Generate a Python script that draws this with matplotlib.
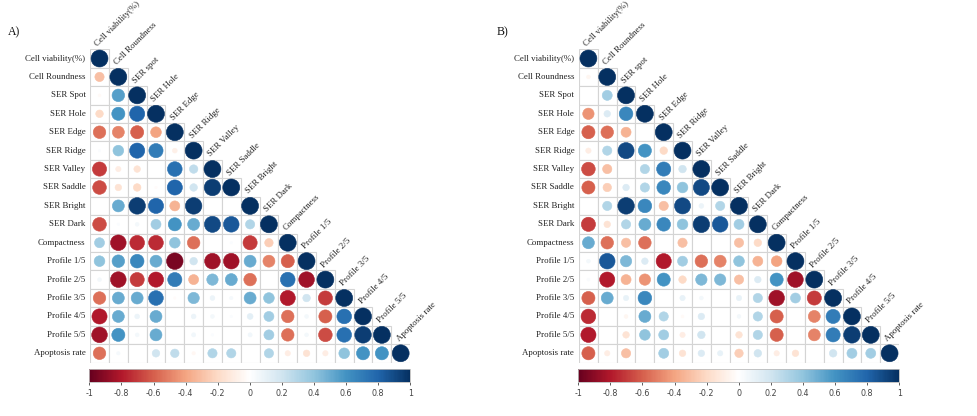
import numpy as np
import matplotlib
matplotlib.use("Agg")
import matplotlib.pyplot as plt
from matplotlib.colors import LinearSegmentedColormap, Normalize
from matplotlib.cm import ScalarMappable
from matplotlib.patches import Rectangle

row_labels = ["Cell viability(%)", "Cell Roundness", "SER Spot", "SER Hole", "SER Edge",
              "SER Ridge", "SER Valley", "SER Saddle", "SER Bright", "SER Dark",
              "Compactness", "Profile 1/5", "Profile 2/5", "Profile 3/5", "Profile 4/5",
              "Profile 5/5", "Apoptosis rate"]
col_labels = ["Cell viability(%)", "Cell Roundness", "SER spot", "SER Hole", "SER Edge",
              "SER Ridge", "SER Valley", "SER Saddle", "SER Bright", "SER Dark",
              "Compactness", "Profile 1/5", "Profile 2/5", "Profile 3/5", "Profile 4/5",
              "Profile 5/5", "Apoptosis rate"]

# lower triangle, row by row (diagonal = 1 not listed)
corr_a = [
    [],
    [-0.3],
    [-0.03, 0.55],
    [-0.2, 0.6, 0.8],
    [-0.55, -0.5, -0.6, -0.4],
    [0.02, 0.4, 0.8, 0.7, -0.08],
    [-0.7, -0.1, -0.15, 0.0, 0.75, 0.25],
    [-0.65, -0.15, -0.2, -0.02, 0.8, 0.2, 0.95],
    [0.0, 0.5, 0.95, 0.8, -0.35, 0.95, 0.0, 0.0],
    [-0.65, 0.02, 0.05, 0.35, 0.6, 0.5, 0.9, 0.85, 0.3],
    [0.35, -0.85, -0.75, -0.75, 0.4, -0.55, 0.0, 0.02, -0.7, -0.25],
    [0.4, 0.55, 0.65, 0.5, -0.95, 0.2, -0.85, -0.85, 0.5, -0.5, -0.6],
    [0.05, -0.85, -0.7, -0.8, 0.7, -0.35, 0.45, 0.5, -0.55, 0.0, 0.75, -0.85],
    [-0.55, 0.5, 0.5, 0.75, -0.02, 0.45, 0.08, 0.04, 0.5, 0.4, -0.8, 0.2, -0.7],
    [-0.8, 0.5, 0.08, 0.5, 0.0, 0.08, 0.05, 0.02, 0.12, 0.35, -0.55, 0.05, -0.6, 0.75],
    [-0.85, 0.6, 0.05, 0.5, 0.0, 0.06, 0.02, 0.0, 0.06, 0.35, -0.55, 0.05, -0.65, 0.75, 0.95],
    [-0.55, 0.04, 0.0, 0.2, 0.25, -0.04, 0.3, 0.3, 0.0, 0.3, -0.1, -0.15, -0.1, 0.4, 0.6, 0.6],
]

corr_b = [
    [],
    [-0.05],
    [0.0, 0.35],
    [-0.45, 0.15, 0.65],
    [-0.6, -0.55, -0.35, 0.0],
    [-0.1, 0.3, 0.9, 0.6, -0.2],
    [-0.65, -0.3, 0.0, 0.3, 0.7, 0.2],
    [-0.6, -0.25, 0.15, 0.3, 0.65, 0.4, 0.9],
    [0.0, 0.3, 0.95, 0.65, -0.3, 0.9, 0.08, 0.3],
    [-0.7, -0.15, 0.3, 0.5, 0.65, 0.4, 0.95, 0.85, 0.35],
    [0.5, -0.55, -0.3, -0.55, 0.0, -0.3, 0.0, 0.0, -0.3, -0.2],
    [0.05, 0.85, 0.45, 0.15, -0.8, 0.35, -0.55, -0.5, 0.4, -0.35, -0.4],
    [0.03, -0.8, -0.35, -0.45, 0.6, -0.2, 0.45, 0.45, -0.3, 0.15, 0.6, -0.85],
    [-0.6, 0.5, 0.1, 0.65, 0.0, 0.1, 0.05, 0.0, 0.1, 0.3, -0.85, 0.35, -0.7],
    [-0.75, 0.0, -0.05, 0.5, 0.3, -0.03, 0.15, 0.0, 0.05, 0.3, -0.6, 0.0, -0.5, 0.7],
    [-0.8, 0.0, -0.15, 0.4, 0.35, -0.1, 0.2, 0.0, -0.15, 0.3, -0.6, 0.0, -0.5, 0.7, 0.95],
    [-0.6, -0.1, -0.3, 0.0, 0.35, -0.15, 0.15, 0.1, -0.25, 0.2, -0.1, -0.15, 0.0, 0.2, 0.35, 0.35],
]

cbar_ticks = [-1, -0.8, -0.6, -0.4, -0.2, 0, 0.2, 0.4, 0.6, 0.8, 1]
panel_names = ["A)", "B)"]

# corrplot default palette
cmap = LinearSegmentedColormap.from_list("corr", [
    "#67001F", "#B2182B", "#D6604D", "#F4A582", "#FDDBC7", "#FFFFFF",
    "#D1E5F0", "#92C5DE", "#4393C3", "#2166AC", "#053061"])
norm = Normalize(-1, 1)

W, H = 978, 416
fig = plt.figure(figsize=(W / 100, H / 100), dpi=100)
serif = "Liberation Serif"
n = len(row_labels)


def draw_panel(left_px, corr, name):
    top_px, bot_px = 49.3, 362.5
    width_px = 320
    cell_w = width_px / n
    ax = fig.add_axes([left_px / W, 1 - bot_px / H, width_px / W, (bot_px - top_px) / H])
    ax.set_xlim(-0.5, n - 0.5)
    ax.set_ylim(n - 0.5, -0.5)
    ax.axis("off")

    xs, ys, vals = [], [], []
    for i in range(n):
        row = list(corr[i]) + [1.0]
        for j, v in enumerate(row):
            ax.add_patch(Rectangle((j - 0.5, i - 0.5), 1, 1, facecolor="white",
                                   edgecolor="#d4d4d4", lw=0.8, zorder=1))
            xs.append(j)
            ys.append(i)
            vals.append(v)
    vals = np.array(vals)
    diam_pt = 0.9 * cell_w * np.sqrt(np.abs(vals)) * 72 / 100
    cols = cmap(norm(vals))
    ax.scatter(xs, ys, s=diam_pt ** 2, c=cols, edgecolors=cols, linewidths=0.4, zorder=3)

    for i, lab in enumerate(row_labels):
        ax.text(-0.75, i, lab, ha="right", va="center", fontsize=6.4,
                family=serif, color="#222222")
    for j, lab in enumerate(col_labels):
        ax.text(j - 0.08, j - 0.65, lab, ha="left", va="baseline", rotation=45,
                rotation_mode="anchor", fontsize=6.4, family=serif, color="#222222")

    fig.text((left_px - 82) / W, 1 - 32 / H, name, fontsize=8.5, family=serif,
             ha="left", va="center", color="#111111")

    cax = fig.add_axes([(left_px - 0.8) / W, 1 - 382 / H, 321 / W, 13 / H])
    cb = fig.colorbar(ScalarMappable(norm=norm, cmap=cmap), cax=cax,
                      orientation="horizontal", ticks=cbar_ticks)
    cb.outline.set_edgecolor("#bbbbbb")
    cb.outline.set_linewidth(0.6)
    cax.set_xticklabels([f"{t:g}" for t in cbar_ticks])
    cax.tick_params(axis="x", length=2, width=0.6, color="#444444", labelsize=5.8,
                    labelcolor="#444444", pad=3)


draw_panel(90.1, corr_a, panel_names[0])
draw_panel(579.0, corr_b, panel_names[1])

fig.savefig("out.png", dpi=100, facecolor="white")
